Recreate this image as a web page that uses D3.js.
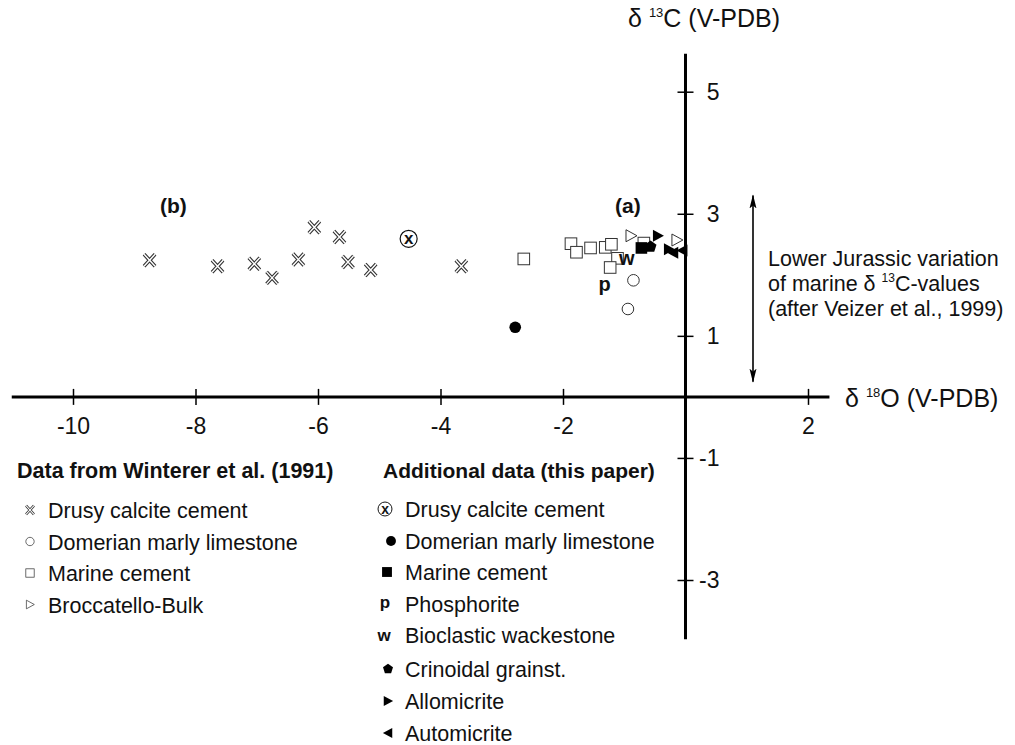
<!DOCTYPE html>
<html>
<head>
<meta charset="utf-8"/>
<script src="https://cdnjs.cloudflare.com/ajax/libs/d3/7.8.5/d3.min.js"></script>
<style>
  body { margin: 0; background: #fff; }
  text { font-family: "Liberation Sans", Arial, sans-serif; fill: #111; }
</style>
</head>
<body>
<script>
// d18O, d13C values
const drusyW = [[-8.75,2.24],[-7.64,2.14],[-7.04,2.18],[-6.75,1.95],[-6.32,2.25],
                [-6.06,2.78],[-5.65,2.62],[-5.51,2.21],[-5.14,2.08],[-3.66,2.14]];
const domerianW = [[-0.85,1.91],[-0.94,1.44]];
const marineW = [[-2.64,2.26],[-1.87,2.51],[-1.78,2.37],[-1.55,2.44],[-1.31,2.45],
                 [-1.21,2.50],[-1.11,2.27],[-1.23,2.12],[-0.68,2.52]];
const broccW = [[-0.89,2.64],[-0.14,2.57]];

const drusyA = [[-4.52,2.59]];
const domerianA = [[-2.78,1.14]];
const marineA = [[-0.72,2.44]];
const phosphA = [[-1.32,1.81]];
const wackeA = [[-0.96,2.27]];
const crinoA = [[-0.57,2.46]];
const alloA = [[-0.45,2.64],[-0.27,2.42]];
const autoA = [[-0.2,2.36],[-0.05,2.40]];

const xTicks = [-10,-8,-6,-4,-2,2];
const yTicks = [5,3,1,-1,-3];
const jurassicRange = [0.25, 3.3];

const legendW = ["Drusy calcite cement","Domerian marly limestone","Marine cement","Broccatello-Bulk"];
const legendA = ["Drusy calcite cement","Domerian marly limestone","Marine cement","Phosphorite",
                 "Bioclastic wackestone","Crinoidal grainst.","Allomicrite","Automicrite"];

const width = 1015, height = 745;
const x = d3.scaleLinear().domain([-10, 2]).range([73, 808]);
const y = d3.scaleLinear().domain([5, -3]).range([91.7, 580]);

const svg = d3.select("body").append("svg")
  .attr("width", width).attr("height", height);

// symbol painters
const sym = {
  xmark: (g) => {
    const p = "M-5.5,-6L5.5,6M5.5,-6L-5.5,6";
    g.append("path").attr("d", p).attr("stroke", "#333").attr("stroke-width", 3.6).attr("fill", "none");
    g.append("path").attr("d", p).attr("stroke", "#fff").attr("stroke-width", 1.4).attr("fill", "none");
  },
  ocircle: (g) => g.append("circle").attr("r", 5.8).attr("fill", "#fff").attr("stroke", "#333").attr("stroke-width", 1),
  osquare: (g) => g.append("rect").attr("x", -5.8).attr("y", -5.8).attr("width", 11.6).attr("height", 11.6)
                   .attr("fill", "#fff").attr("stroke", "#333").attr("stroke-width", 1),
  otri: (g) => g.append("path").attr("d", "M-5,-6L6,0L-5,6Z").attr("fill", "#fff").attr("stroke", "#333").attr("stroke-width", 1),
  cx: (g) => {
    g.append("circle").attr("r", 8.5).attr("fill", "#fff").attr("stroke", "#111").attr("stroke-width", 1.2);
    g.append("text").attr("text-anchor", "middle").attr("y", 5.5).attr("font-size", 17)
      .attr("font-weight", "bold").text("x");
  },
  fcircle: (g) => g.append("circle").attr("r", 5.8).attr("fill", "#000"),
  fsquare: (g) => g.append("rect").attr("x", -5.8).attr("y", -5.8).attr("width", 11.6).attr("height", 11.6).attr("fill", "#000"),
  p: (g) => g.append("text").attr("text-anchor", "middle").attr("y", 5).attr("font-size", 20).attr("font-weight", "bold").text("p"),
  w: (g) => g.append("text").attr("text-anchor", "middle").attr("y", 7).attr("font-size", 20).attr("font-weight", "bold").text("w"),
  pent: (g) => g.append("path").attr("d", d3.range(5).map((i, k) => {
                  const a = -Math.PI / 2 + i * 2 * Math.PI / 5;
                  return (k ? "L" : "M") + (6.2 * Math.cos(a)).toFixed(2) + "," + (6.2 * Math.sin(a)).toFixed(2);
                }).join("") + "Z").attr("fill", "#000"),
  ftriR: (g) => g.append("path").attr("d", "M-5,-6L6,0L-5,6Z").attr("fill", "#000"),
  ftriL: (g) => g.append("path").attr("d", "M5,-6L-6,0L5,6Z").attr("fill", "#000")
};

// axes
const axes = svg.append("g");
axes.append("line").attr("x1", x(-11)).attr("x2", x(2.35)).attr("y1", y(0)).attr("y2", y(0))
  .attr("stroke", "#000").attr("stroke-width", 3);
axes.append("line").attr("x1", x(0)).attr("x2", x(0)).attr("y1", y(5.62)).attr("y2", y(-3.97))
  .attr("stroke", "#000").attr("stroke-width", 3);

const xa = axes.append("g").attr("transform", `translate(0,${y(0)})`)
  .call(d3.axisBottom(x).tickValues(xTicks).tickFormat(d => String(d)).tickSize(8).tickPadding(13));
xa.select(".domain").remove();
xa.selectAll(".tick line").attr("y1", -8).attr("y2", 8).attr("stroke-width", 1.5);
xa.selectAll(".tick text").attr("font-size", 23).attr("font-family", "Liberation Sans, Arial, sans-serif").attr("fill", "#111");

const ya = axes.append("g").attr("transform", `translate(${x(0)},0)`)
  .call(d3.axisRight(y).tickValues(yTicks).tickFormat(d => String(d)).tickSize(8).tickPadding(14));
ya.select(".domain").remove();
ya.selectAll(".tick line").attr("x1", -8).attr("x2", 8).attr("stroke-width", 1.5);
ya.selectAll(".tick text").attr("font-size", 23).attr("font-family", "Liberation Sans, Arial, sans-serif")
  .attr("fill", "#111").attr("text-anchor", "end").attr("x", 34);

// axis titles
function deltaLabel(tx, ty, iso, el) {
  const t = svg.append("text").attr("x", tx).attr("y", ty).attr("font-size", 25);
  t.append("tspan").text("δ ");
  t.append("tspan").attr("font-size", 13).attr("dy", -10).text(iso);
  t.append("tspan").attr("dy", 10).text(el + " (V-PDB)");
}
deltaLabel(628, 27, "13", "C");
deltaLabel(845, 407, "18", "O");

// Jurassic range arrow
svg.append("defs").append("marker").attr("id", "ah").attr("viewBox", "0 0 14 10")
  .attr("refX", 13).attr("refY", 5).attr("markerWidth", 14).attr("markerHeight", 10)
  .attr("markerUnits", "userSpaceOnUse").attr("orient", "auto-start-reverse")
  .append("path").attr("d", "M0,1.5L14,5L0,8.5L3,5Z").attr("fill", "#000");
svg.append("line").attr("x1", 753).attr("x2", 753)
  .attr("y1", y(jurassicRange[1])).attr("y2", y(jurassicRange[0]))
  .attr("stroke", "#000").attr("stroke-width", 1.6)
  .attr("marker-start", "url(#ah)").attr("marker-end", "url(#ah)");
const note = svg.append("text").attr("font-size", 21.5);
note.append("tspan").attr("x", 768).attr("y", 266).text("Lower Jurassic variation");
note.append("tspan").attr("x", 768).attr("y", 291).text("of marine δ ");
note.append("tspan").attr("font-size", 12).attr("dy", -9).text("13");
note.append("tspan").attr("dy", 9).text("C-values");
note.append("tspan").attr("x", 768).attr("y", 316).text("(after Veizer et al., 1999)");

svg.append("text").attr("x", 160).attr("y", 213).attr("font-size", 21).attr("font-weight", "bold").text("(b)");
svg.append("text").attr("x", 615).attr("y", 213).attr("font-size", 21).attr("font-weight", "bold").text("(a)");

// data points
const layers = [
  [drusyW, "xmark"], [domerianW, "ocircle"], [marineW, "osquare"], [broccW, "otri"],
  [drusyA, "cx"], [domerianA, "fcircle"], [phosphA, "p"], [wackeA, "w"],
  [marineA, "fsquare"], [crinoA, "pent"], [alloA, "ftriR"], [autoA, "ftriL"]
];
const pts = svg.append("g");
layers.forEach(([data, s]) => {
  pts.selectAll(null).data(data).join("g")
    .attr("transform", d => `translate(${x(d[0])},${y(d[1])})`)
    .each(function () { sym[s](d3.select(this)); });
});

// legends
const lw = svg.append("g");
lw.append("text").attr("x", 17).attr("y", 478).attr("font-size", 21.5).attr("font-weight", "bold")
  .text("Data from Winterer et al. (1991)");
const symW = ["xmark", "ocircle", "osquare", "otri"];
legendW.forEach((name, i) => {
  const gy = 510 + i * 31.5;
  const g = lw.append("g").attr("transform", `translate(30,${gy}) scale(0.72)`);
  sym[symW[i]](g);
  lw.append("text").attr("x", 48).attr("y", gy + 8).attr("font-size", 21.5).text(name);
});

const la = svg.append("g");
la.append("text").attr("x", 383).attr("y", 478).attr("font-size", 21).attr("font-weight", "bold")
  .text("Additional data (this paper)");
const symA = ["cx", "fcircle", "fsquare", "p", "w", "pent", "ftriR", "ftriL"];
const symAx = [385, 391, 387, 385, 384, 388, 388, 388];
const rowA = [509, 541, 572, 604, 635, 669, 701, 733];
legendA.forEach((name, i) => {
  const g = la.append("g").attr("transform", `translate(${symAx[i]},${rowA[i]}) scale(${i === 0 ? 0.82 : 0.85})`);
  sym[symA[i]](g);
  la.append("text").attr("x", 405).attr("y", rowA[i] + 8).attr("font-size", 21.5).text(name);
});
</script>
</body>
</html>
